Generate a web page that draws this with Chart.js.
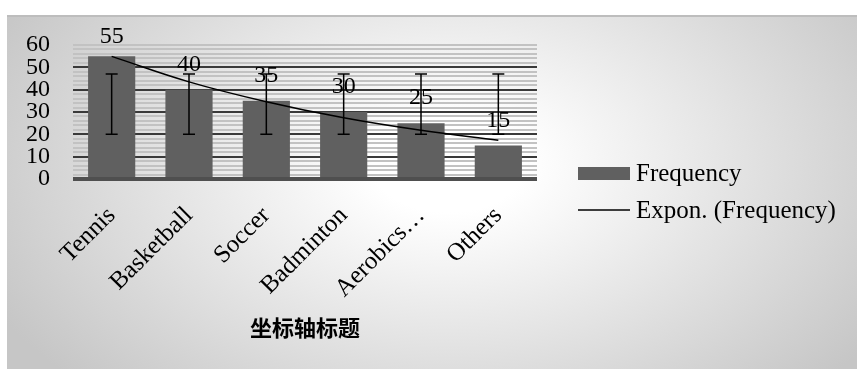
<!DOCTYPE html>
<html>
<head>
<meta charset="utf-8">
<script src="https://cdn.jsdelivr.net/npm/chart.js@4.4.1/dist/chart.umd.min.js"></script>
<style>
  body { margin: 0; background: #ffffff; width: 857px; height: 369px; overflow: hidden; }
  #frame {
    position: absolute; left: 7px; top: 15px; width: 850px; height: 354px;
    box-sizing: border-box; border-top: 2px solid #bdbdbd;
    background: radial-gradient(ellipse 60% 90% at 52% 42%, #ffffff 0%, #ffffff 15%, #c6c6c6 100%);
  }
  #chart { position: absolute; left: 7px; top: 15px; }
</style>
</head>
<body>
<div id="frame"></div>
<canvas id="chart" width="850" height="354"></canvas>
<script>
// Sports and how often each was named
const categories = ['Tennis', 'Basketball', 'Soccer', 'Badminton', 'Aerobics…', 'Others'];
const frequency = [55, 40, 35, 30, 25, 15];
// Exponential trend line, read at each category
const trendValues = [54.9, 43.5, 34.6, 27.4, 21.8, 17.4];
// Error bar ranges
const errLow = [20, 20, 20, 20, 20, 20];
const errHigh = [47, 47, 47, 47, 47, 47];
// Y axis labels
const yLabels = [0, 10, 20, 30, 40, 50, 60];

const serif = '"Liberation Serif", "Times New Roman", serif';

// Error bars and value labels on top of the bars
const barExtras = {
    id: 'barExtras',
    afterDatasetsDraw(chart) {
        const ctx = chart.ctx;
        const y = chart.scales.y;
        const meta = chart.getDatasetMeta(0);
        ctx.save();
        ctx.strokeStyle = '#000';
        ctx.lineWidth = 1.5;
        meta.data.forEach((bar, i) => {
            const yl = y.getPixelForValue(errLow[i]);
            const yh = y.getPixelForValue(errHigh[i]);
            ctx.beginPath();
            ctx.moveTo(bar.x, yl); ctx.lineTo(bar.x, yh);
            ctx.moveTo(bar.x - 6, yl); ctx.lineTo(bar.x + 6, yl);
            ctx.moveTo(bar.x - 6, yh); ctx.lineTo(bar.x + 6, yh);
            ctx.stroke();
        });
        ctx.fillStyle = '#000';
        ctx.font = '24px ' + serif;
        ctx.textAlign = 'center';
        ctx.textBaseline = 'middle';
        meta.data.forEach((bar, i) => {
            const ty = Math.max(bar.y - 25, chart.chartArea.top - 8);
            ctx.fillText(String(frequency[i]), bar.x, ty);
        });
        ctx.restore();
    }
};

// Legend to the right of the plot
const sideLegend = {
    id: 'sideLegend',
    afterDraw(chart) {
        const ctx = chart.ctx;
        const x0 = chart.chartArea.right + 41;
        ctx.save();
        ctx.fillStyle = '#606060';
        ctx.fillRect(x0, 152, 52, 13);
        ctx.strokeStyle = '#000';
        ctx.lineWidth = 1.5;
        ctx.beginPath();
        ctx.moveTo(x0, 195); ctx.lineTo(x0 + 52, 195);
        ctx.stroke();
        ctx.fillStyle = '#000';
        ctx.font = '25px ' + serif;
        ctx.textAlign = 'left';
        ctx.textBaseline = 'middle';
        ctx.fillText('Frequency', x0 + 58, 159);
        ctx.fillText('Expon. (Frequency)', x0 + 58, 196);
        ctx.restore();
    }
};

function gridColor(c) {
    const v = c.tick.value;
    if (v === 0) return '#4f4f4f';
    if (v % 10 === 0 && v < 60) return '#3a3a3a';
    return '#c2c2c2';
}

function gridWidth(c) {
    const v = c.tick.value;
    if (v === 0) return 4;
    return 2;
}

new Chart(document.getElementById('chart'), {
    data: {
        labels: categories,
        datasets: [
            {
                type: 'bar',
                label: 'Frequency',
                data: frequency,
                backgroundColor: '#606060',
                barPercentage: 0.61,
                categoryPercentage: 1,
                order: 2
            },
            {
                type: 'line',
                label: 'Expon. (Frequency)',
                data: trendValues,
                borderColor: '#000',
                borderWidth: 1.5,
                pointRadius: 0,
                tension: 0.4,
                order: 1
            }
        ]
    },
    options: {
        responsive: false,
        animation: false,
        layout: { padding: { left: 0, top: 30, right: 320, bottom: 28 } },
        plugins: { legend: { display: false }, tooltip: { enabled: false } },
        scales: {
            x: {
                grid: { display: false },
                border: { display: false },
                ticks: {
                    color: '#000',
                    font: { family: serif, size: 25 },
                    minRotation: 45,
                    maxRotation: 45,
                    padding: 14
                },
                title: {
                    display: true,
                    text: '坐标轴标题',
                    color: '#000',
                    font: { family: '"Noto Sans CJK SC", sans-serif', size: 22, weight: 'bold' },
                    padding: { top: 0, bottom: 0 }
                },
                afterFit(scale) { scale.height = 162; }
            },
            y: {
                min: 0,
                max: 60,
                grid: { color: gridColor, lineWidth: gridWidth, drawTicks: false },
                border: { display: false },
                ticks: {
                    stepSize: 2,
                    autoSkip: false,
                    color: '#000',
                    padding: 23,
                    font: { family: serif, size: 24 },
                    callback: v => (yLabels.includes(v) ? String(v) : '')
                },
                afterFit(scale) {
                    scale.width = 66;
                    scale.paddingTop = 0;
                    scale.paddingBottom = 0;
                }
            }
        }
    },
    plugins: [barExtras, sideLegend]
});
</script>
</body>
</html>
